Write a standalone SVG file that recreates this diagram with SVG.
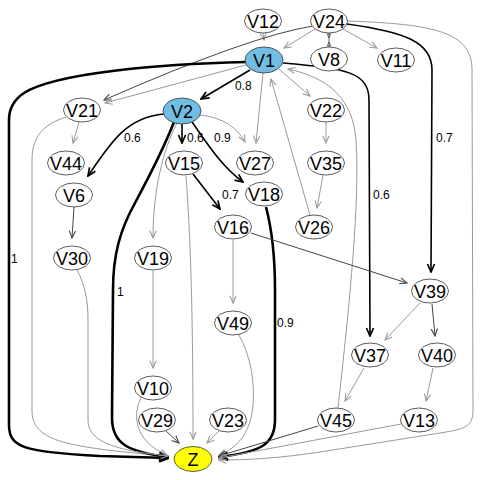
<svg xmlns="http://www.w3.org/2000/svg" width="480" height="480" viewBox="0 0 480 480">
<style>
.n ellipse{fill:#fff;stroke:#333;stroke-width:0.8}
.n text{font-family:"Liberation Sans",Arial,sans-serif;font-size:18px;text-anchor:middle;fill:#000}
.lab{font-family:"Liberation Sans",Arial,sans-serif;font-size:12px;fill:#000}
.e{fill:none}
.g{stroke:#9a9a9a;stroke-width:1;marker-end:url(#ag)}
.d{stroke:#444;stroke-width:1;marker-end:url(#ad)}
.m{stroke:#000;stroke-width:1.6;marker-end:url(#am)}
.t{stroke:#000;stroke-width:2.6;marker-end:url(#at)}
</style>
<defs>
<marker id="ag" viewBox="0 0 10 10" refX="9" refY="5" markerWidth="9" markerHeight="9" orient="auto" markerUnits="userSpaceOnUse"><path d="M1,1.5 L9,5 L1,8.5" fill="none" stroke="#9a9a9a" stroke-width="1.2"/></marker>
<marker id="ad" viewBox="0 0 10 10" refX="9" refY="5" markerWidth="9" markerHeight="9" orient="auto" markerUnits="userSpaceOnUse"><path d="M1,1.5 L9,5 L1,8.5" fill="none" stroke="#444" stroke-width="1.2"/></marker>
<marker id="as" viewBox="0 0 10 10" refX="9" refY="5" markerWidth="6" markerHeight="6" orient="auto" markerUnits="userSpaceOnUse"><path d="M1,1.5 L9,5 L1,8.5" fill="none" stroke="#666" stroke-width="1.5"/></marker>
<marker id="am" viewBox="0 0 10 10" refX="9" refY="5" markerWidth="10" markerHeight="10" orient="auto" markerUnits="userSpaceOnUse"><path d="M1,1.5 L9,5 L1,8.5" fill="none" stroke="#000" stroke-width="1.7"/></marker>
<marker id="at" viewBox="0 0 10 10" refX="9" refY="5" markerWidth="11" markerHeight="11" orient="auto" markerUnits="userSpaceOnUse"><path d="M1,1.5 L9,5 L1,8.5" fill="none" stroke="#000" stroke-width="2.2"/></marker>
</defs>
<g id="edges">
<path class="e g" d="M263,33 L264,40"/>
<path class="e g" d="M315,29 L284,48"/>
<path class="e" stroke="#666" stroke-width="1" d="M329,33 L329,47"/>
<path class="e" stroke="#666" stroke-width="1" marker-end="url(#as)" d="M329,33 L329,38"/>
<path class="e" stroke="#666" stroke-width="1" marker-end="url(#as)" d="M329,47 L329,42"/>
<path class="e g" d="M343,29 L377,48"/>
<path class="e d" d="M313,26 Q250,36 104,100"/>
<path class="e g" d="M246,65 L105,103"/>
<path class="e t" d="M246,62 C160,64 55,73 24,93 Q9,103 9,120 L9,425 C9,448 25,452 100,456 L168,458"/>
<path class="e m" stroke-width="2" d="M250,70 L201,99"/>
<path class="e g" d="M263,73 L256,143"/>
<path class="e g" d="M279,69 L310,96"/>
<path class="e m" d="M283,63 C345,68 369,72 369,100 L370,336"/>
<path class="e m" stroke-width="2" d="M347,24 C405,32 432,42 432,70 L431,272"/>
<path class="e g" d="M347,21 C435,24 472,32 472,70 L473,410 C473,427 465,429 440,433 L320,452 C280,458 250,460 219,460"/>
<path class="e g" d="M310,215 L271,79"/>
<path class="e g" d="M338,408 C350,300 360,200 356,140 C353,100 330,78 288,69"/>
<path class="e g" d="M326,122 L326,143"/>
<path class="e g" d="M323,175 L317,208"/>
<path class="e g" d="M79,122 L73,143"/>
<path class="e g" d="M66,117 C45,124 32,135 32,160 L32,410 C32,440 60,447 168,456"/>
<path class="e m" d="M164,114 C128,117 112,140 88,176"/>
<path class="e m" d="M182,124 L182,143"/>
<path class="e m" stroke-width="2" d="M192,122 C205,140 220,165 243,182"/>
<path class="e g" d="M200,115 C222,117 238,128 245,142"/>
<path class="e t" d="M174,122 C165,145 150,175 135,203 C120,230 113,255 113,290 L112,418 C112,445 130,452 168,457"/>
<path class="e g" d="M177,123 C163,150 153,190 153,238"/>
<path class="e m" d="M193,174 L220,209"/>
<path class="e g" d="M186,176 C190,230 193,300 193,439"/>
<path class="e d" d="M74,207 L72,238"/>
<path class="e g" d="M77,270 C85,285 88,300 88,320 L88,420 C88,440 110,450 168,456"/>
<path class="e g" d="M153,271 L153,368"/>
<path class="e g" d="M141,398 C132,415 135,442 167,455"/>
<path class="e d" d="M166,431 L179,443"/>
<path class="e g" d="M219,431 L207,443"/>
<path class="e t" d="M266,207 C272,230 275,255 275,290 L275,420 C275,445 260,452 219,457"/>
<path class="e g" d="M233,240 L233,303"/>
<path class="e d" stroke="#555" d="M251,233 L407,283"/>
<path class="e g" d="M239,335 C250,355 255,380 253,405 C251,430 240,447 219,455"/>
<path class="e g" d="M420,303 L385,340"/>
<path class="e d" d="M432,304 L435,336"/>
<path class="e g" d="M364,368 L345,401"/>
<path class="e g" d="M433,368 L426,401"/>
<path class="e d" d="M318,426 L219,456"/>
<path class="e g" d="M401,424 L219,458"/>
<text class="lab" x="235" y="90">0.8</text>
<text class="lab" x="373" y="199">0.6</text>
<text class="lab" x="436" y="142">0.7</text>
<text class="lab" x="11" y="263">1</text>
<text class="lab" x="124" y="142">0.6</text>
<text class="lab" x="187" y="142">0.6</text>
<text class="lab" x="214" y="142">0.9</text>
<text class="lab" x="222" y="199">0.7</text>
<text class="lab" x="117" y="296">1</text>
<text class="lab" x="277" y="327">0.9</text>
</g>
<g id="V12" class="n"><ellipse cx="263" cy="21" rx="18.5" ry="12"/><text x="263" y="27.5">V12</text></g>
<g id="V24" class="n"><ellipse cx="329" cy="21" rx="18.5" ry="12"/><text x="329" y="27.5">V24</text></g>
<g id="V1" class="n"><ellipse cx="264" cy="60" rx="19" ry="13" style="fill:#71bde4"/><text x="264" y="66.5">V1</text></g>
<g id="V8" class="n"><ellipse cx="329" cy="59" rx="18.5" ry="12"/><text x="329" y="65.5">V8</text></g>
<g id="V11" class="n"><ellipse cx="396" cy="60" rx="18.5" ry="12"/><text x="396" y="66.5">V11</text></g>
<g id="V21" class="n"><ellipse cx="82" cy="110" rx="18.5" ry="12"/><text x="82" y="116.5">V21</text></g>
<g id="V2" class="n"><ellipse cx="182" cy="111" rx="19" ry="13" style="fill:#71bde4"/><text x="182" y="117.5">V2</text></g>
<g id="V22" class="n"><ellipse cx="326" cy="110" rx="18.5" ry="12"/><text x="326" y="116.5">V22</text></g>
<g id="V44" class="n"><ellipse cx="66" cy="163" rx="18.5" ry="12"/><text x="66" y="169.5">V44</text></g>
<g id="V15" class="n"><ellipse cx="184" cy="163" rx="18.5" ry="12"/><text x="184" y="169.5">V15</text></g>
<g id="V27" class="n"><ellipse cx="255" cy="163" rx="18.5" ry="12"/><text x="255" y="169.5">V27</text></g>
<g id="V35" class="n"><ellipse cx="326" cy="163" rx="18.5" ry="12"/><text x="326" y="169.5">V35</text></g>
<g id="V6" class="n"><ellipse cx="74" cy="195" rx="18.5" ry="12"/><text x="74" y="201.5">V6</text></g>
<g id="V18" class="n"><ellipse cx="264" cy="194" rx="18.5" ry="12"/><text x="264" y="200.5">V18</text></g>
<g id="V16" class="n"><ellipse cx="233" cy="227" rx="18.5" ry="12"/><text x="233" y="233.5">V16</text></g>
<g id="V26" class="n"><ellipse cx="314" cy="227" rx="18.5" ry="12"/><text x="314" y="233.5">V26</text></g>
<g id="V30" class="n"><ellipse cx="72" cy="258" rx="18.5" ry="12"/><text x="72" y="264.5">V30</text></g>
<g id="V19" class="n"><ellipse cx="153" cy="258" rx="18.5" ry="12"/><text x="153" y="264.5">V19</text></g>
<g id="V39" class="n"><ellipse cx="430" cy="291" rx="18.5" ry="12"/><text x="430" y="297.5">V39</text></g>
<g id="V49" class="n"><ellipse cx="233" cy="323" rx="18.5" ry="12"/><text x="233" y="329.5">V49</text></g>
<g id="V37" class="n"><ellipse cx="370" cy="355" rx="18.5" ry="12"/><text x="370" y="361.5">V37</text></g>
<g id="V40" class="n"><ellipse cx="437" cy="355" rx="18.5" ry="12"/><text x="437" y="361.5">V40</text></g>
<g id="V10" class="n"><ellipse cx="153" cy="388" rx="18.5" ry="12"/><text x="153" y="394.5">V10</text></g>
<g id="V29" class="n"><ellipse cx="157" cy="420" rx="18.5" ry="12"/><text x="157" y="426.5">V29</text></g>
<g id="V23" class="n"><ellipse cx="228" cy="420" rx="18.5" ry="12"/><text x="228" y="426.5">V23</text></g>
<g id="V45" class="n"><ellipse cx="336" cy="420" rx="18.5" ry="12"/><text x="336" y="426.5">V45</text></g>
<g id="V13" class="n"><ellipse cx="419" cy="420" rx="18.5" ry="12"/><text x="419" y="426.5">V13</text></g>
<g id="Z" class="n"><ellipse cx="193" cy="459" rx="19" ry="12.5" style="fill:#ffff00"/><text x="193" y="465.5">Z</text></g>
</svg>
